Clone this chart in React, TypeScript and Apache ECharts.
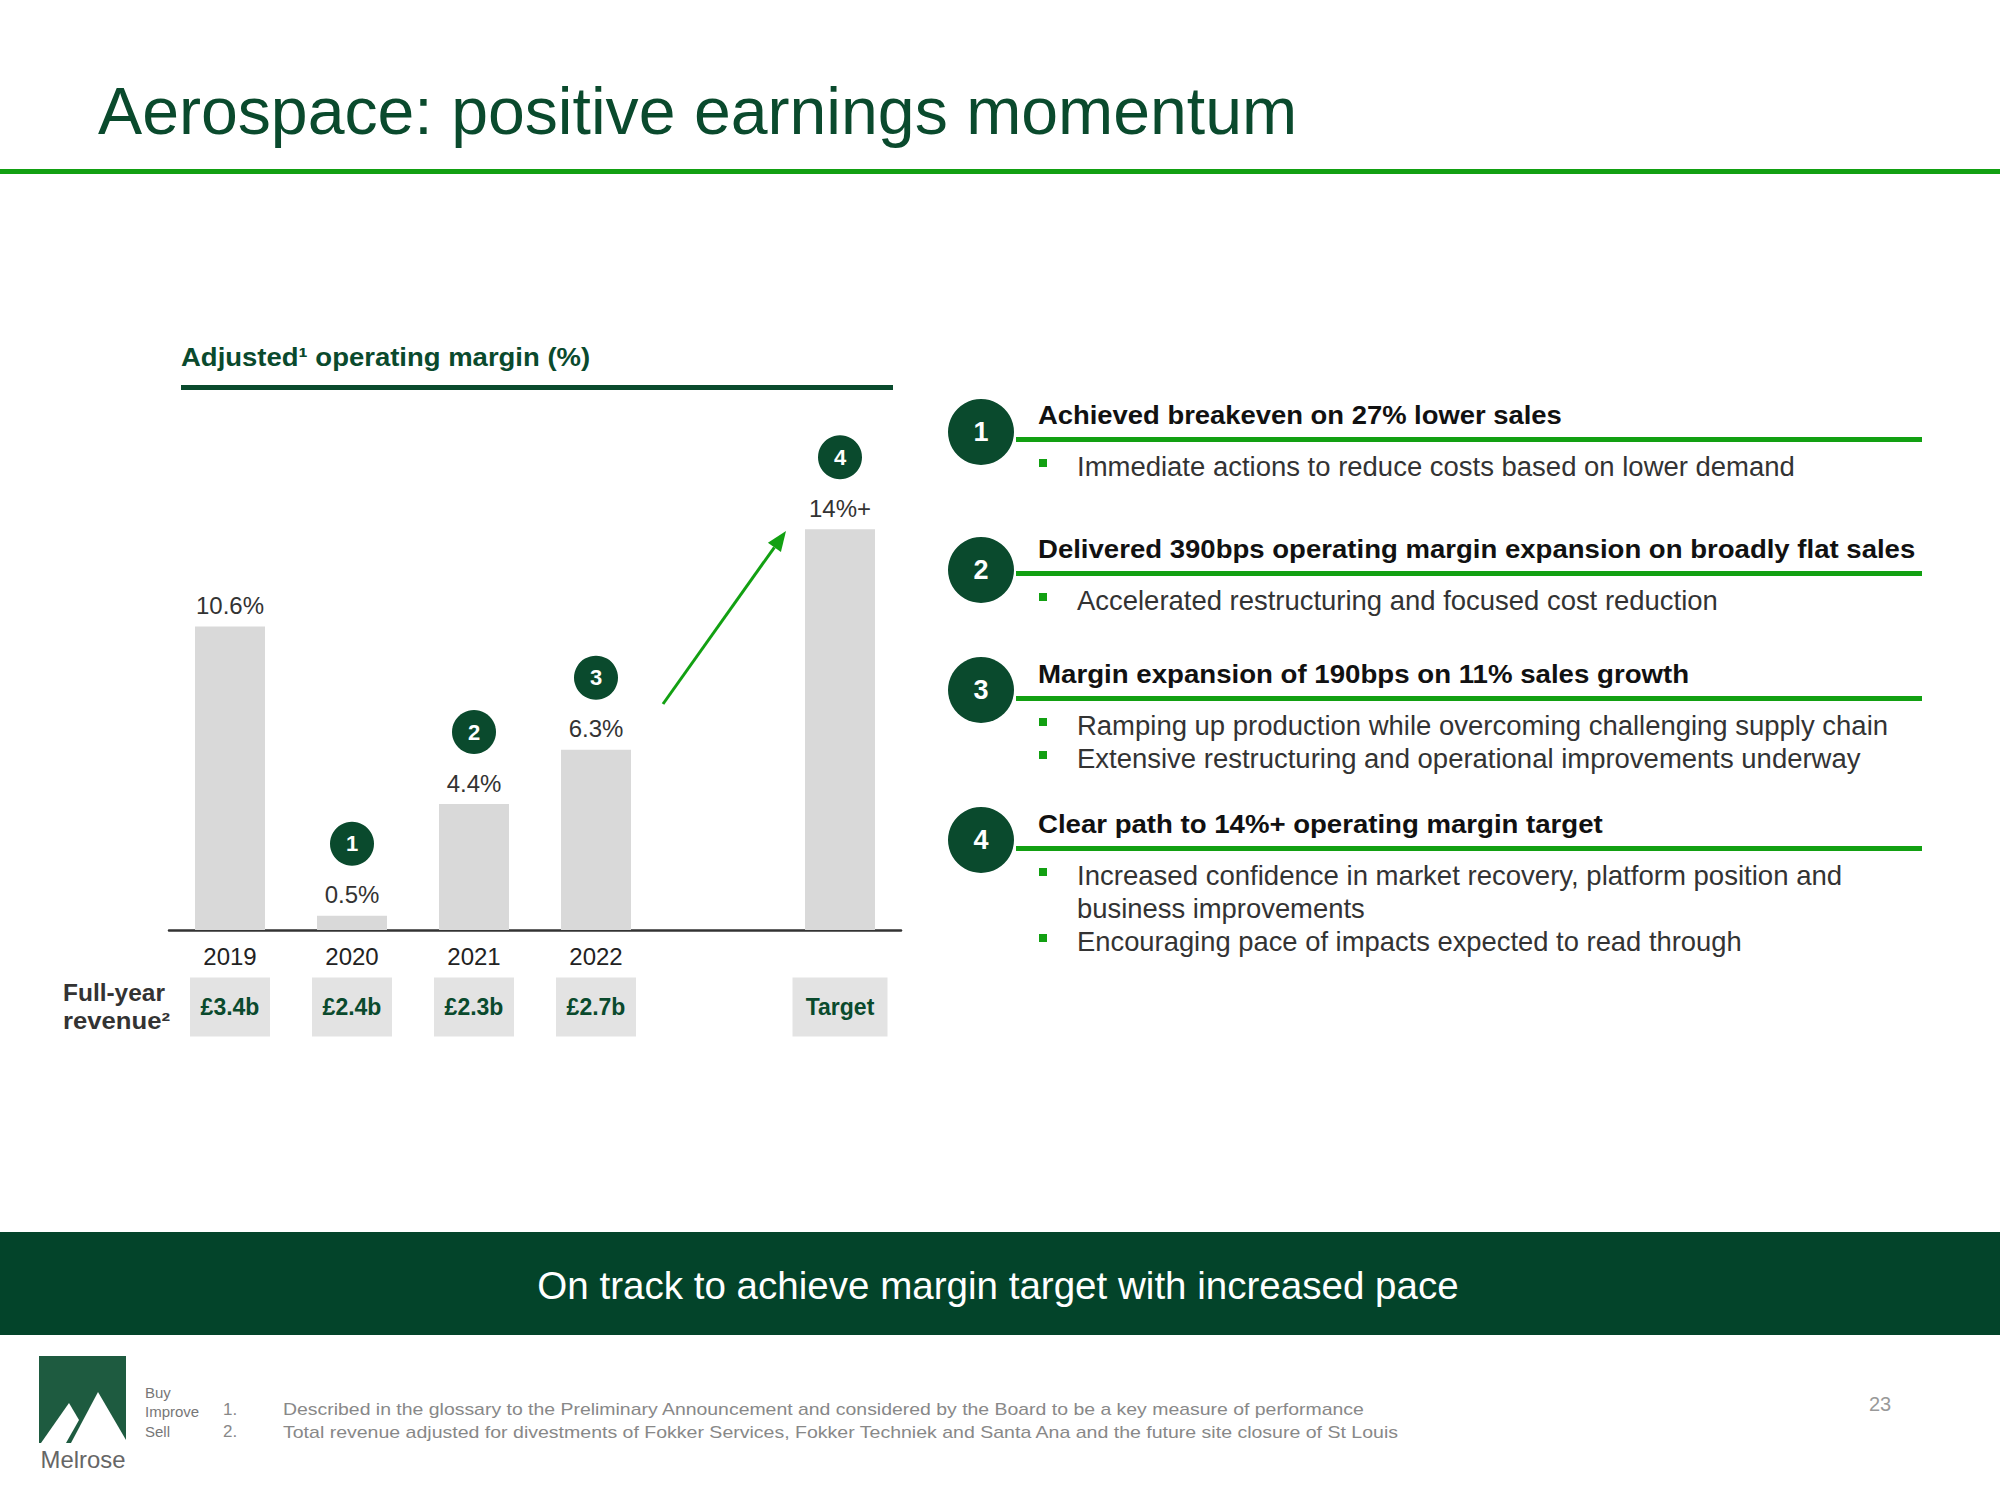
import React, { useEffect, useRef } from 'react';
import * as echarts from 'echarts';

// ---------- data ----------
const categories = ['2019', '2020', '2021', '2022', '', ''];
const marginValues: (number | null)[] = [10.6, 0.5, 4.4, 6.3, null, 14];
const marginLabels = ['10.6%', '0.5%', '4.4%', '6.3%', '', '14%+'];
const revenueLabels = ['£3.4b', '£2.4b', '£2.3b', '£2.7b', '', 'Target'];
const badgeNumbers = ['', '1', '2', '3', '', '4'];

const headings = [
  'Achieved breakeven on 27% lower sales',
  'Delivered 390bps operating margin expansion on broadly flat sales',
  'Margin expansion of 190bps on 11% sales growth',
  'Clear path to 14%+ operating margin target',
];
const bullets: string[][] = [
  ['Immediate actions to reduce costs based on lower demand'],
  ['Accelerated restructuring and focused cost reduction'],
  [
    'Ramping up production while overcoming challenging supply chain',
    'Extensive restructuring and operational improvements underway',
  ],
  [
    'Increased confidence in market recovery, platform position and\nbusiness improvements',
    'Encouraging pace of impacts expected to read through',
  ],
];
const footnotes = [
  'Described in the glossary to the Preliminary Announcement and considered by the Board to be a key measure of performance',
  'Total revenue adjusted for divestments of Fokker Services, Fokker Techniek and Santa Ana and the future site closure of St Louis',
];
const tagline = ['Buy', 'Improve', 'Sell'];

// ---------- styling ----------
const FONT = "'Liberation Sans', Arial, sans-serif";
const DARK_GREEN = '#0a4a2d';
const BRIGHT_GREEN = '#12a012';
const BAND_GREEN = '#03442a';

let measureCtx: CanvasRenderingContext2D | null = null;
function measure(text: string, size: number, weight: string) {
  if (!measureCtx) measureCtx = document.createElement('canvas').getContext('2d');
  if (!measureCtx) return 1;
  measureCtx.font = `${weight} ${size}px ${FONT}`;
  return measureCtx.measureText(text).width || 1;
}

function txt(
  x: number,
  y: number,
  text: string,
  size: number,
  color: string,
  opts: { bold?: boolean; align?: string; width?: number } = {}
) {
  const weight = opts.bold ? 'bold' : 'normal';
  const scaleX = opts.width ? opts.width / measure(text, size, weight) : 1;
  return {
    type: 'text',
    x,
    y,
    scaleX,
    silent: true,
    style: {
      text,
      fill: color,
      fontSize: size,
      fontWeight: weight,
      fontFamily: FONT,
      align: opts.align || 'left',
      verticalAlign: 'middle',
    },
  };
}

function buildGraphics() {
  const g: any[] = [];
  // title
  g.push(txt(98, 111, 'Aerospace: positive earnings momentum', 67, DARK_GREEN, { width: 1199 }));
  g.push({ type: 'rect', silent: true, shape: { x: 0, y: 169, width: 2000, height: 5 }, style: { fill: BRIGHT_GREEN } });

  // chart subtitle
  g.push(txt(181, 357, 'Adjusted¹ operating margin (%)', 26, DARK_GREEN, { bold: true, width: 409 }));
  g.push({ type: 'rect', silent: true, shape: { x: 181, y: 385, width: 712, height: 5 }, style: { fill: DARK_GREEN } });

  // full-year revenue label
  g.push(txt(63, 993, 'Full-year', 23, '#333', { bold: true, width: 102 }));
  g.push(txt(63, 1021, 'revenue²', 23, '#333', { bold: true, width: 107 }));

  // arrow
  const sx = 663, sy = 704, tx = 786, ty = 531;
  const dx = tx - sx, dy = ty - sy;
  const len = Math.sqrt(dx * dx + dy * dy);
  const ux = dx / len, uy = dy / len;
  const headLen = 20, headHalf = 8;
  const bx = tx - ux * headLen, by = ty - uy * headLen;
  g.push({ type: 'line', silent: true, shape: { x1: sx, y1: sy, x2: bx, y2: by }, style: { stroke: BRIGHT_GREEN, lineWidth: 3 } });
  g.push({
    type: 'polygon', silent: true,
    shape: { points: [[tx, ty], [bx - uy * headHalf, by + ux * headHalf], [bx + uy * headHalf, by - ux * headHalf]] },
    style: { fill: BRIGHT_GREEN },
  });

  // right panel
  const headingY = [415, 549, 674, 824];
  const badgeY = [432, 570, 690, 840];
  const headingWidths = [524, 878, 651, 565];
  const bulletWidths = [[718], [641], [811, 784], [766, 288, 665]];
  headings.forEach((h, i) => {
    g.push({ type: 'circle', silent: true, shape: { cx: 981, cy: badgeY[i], r: 33 }, style: { fill: DARK_GREEN } });
    g.push(txt(981, badgeY[i], String(i + 1), 27, '#fff', { bold: true, align: 'center' }));
    g.push(txt(1038, headingY[i], h, 26, '#111', { bold: true, width: headingWidths[i] }));
    g.push({ type: 'rect', silent: true, shape: { x: 1016, y: headingY[i] + 22, width: 906, height: 5 }, style: { fill: BRIGHT_GREEN } });
    let k = 0;
    bullets[i].forEach((b) => {
      b.split('\n').forEach((line, li) => {
        const y = headingY[i] + 52 + 33 * k;
        if (li === 0) {
          g.push({ type: 'rect', silent: true, shape: { x: 1039, y: y - 8, width: 8, height: 8 }, style: { fill: BRIGHT_GREEN } });
        }
        g.push(txt(1077, y, line, 27, '#333', { width: bulletWidths[i][k] }));
        k++;
      });
    });
  });

  // bottom band
  g.push({ type: 'rect', silent: true, shape: { x: 0, y: 1232, width: 2000, height: 103 }, style: { fill: BAND_GREEN } });
  g.push(txt(998, 1285, 'On track to achieve margin target with increased pace', 39, '#fff', { align: 'center', width: 922 }));

  // logo
  g.push({ type: 'rect', silent: true, shape: { x: 39, y: 1356, width: 87, height: 87 }, style: { fill: '#1e5b40' } });
  g.push({ type: 'polygon', silent: true, shape: { points: [[41, 1443], [69, 1403], [79, 1420], [66, 1443]] }, style: { fill: '#fff' } });
  g.push({ type: 'polygon', silent: true, shape: { points: [[71, 1443], [98, 1392], [126, 1440], [126, 1443]] }, style: { fill: '#fff' } });
  g.push(txt(83, 1460, 'Melrose', 23, '#666', { align: 'center', width: 85 }));

  // tagline
  tagline.forEach((t, i) => g.push(txt(145, 1392 + i * 19.5, t, 15, '#777')));

  // footnotes
  const fnWidths = [1082, 1117];
  footnotes.forEach((f, i) => {
    g.push(txt(223, 1409 + i * 22.5, `${i + 1}.`, 17, '#888'));
    g.push(txt(283, 1409 + i * 22.5, f, 17, '#888', { width: fnWidths[i] }));
  });

  // page number
  g.push(txt(1880, 1404, '23', 20, '#999', { align: 'center' }));
  return g;
}

function buildOption(): any {
  return {
    animation: false,
    backgroundColor: '#fff',
    grid: { left: 169, top: 472, width: 732, height: 458 },
    xAxis: [
      {
        type: 'category',
        data: categories,
        axisLine: { show: true, lineStyle: { color: '#333', width: 2.5 } },
        axisTick: { show: false },
        axisLabel: { interval: 0, margin: 14, fontSize: 24, color: '#222', fontFamily: FONT },
      },
      {
        type: 'category',
        data: revenueLabels,
        position: 'bottom',
        axisLine: { show: false },
        axisTick: { show: false },
        axisLabel: {
          interval: 0,
          margin: 65,
          formatter: (v: string) => (v ? (v === 'Target' ? `{t|${v}}` : `{b|${v}}`) : ''),
          rich: {
            b: {
              backgroundColor: '#e3e3e3', padding: [18, 10, 18, 10], width: 60, align: 'center',
              fontSize: 23, fontWeight: 'bold', color: DARK_GREEN, lineHeight: 24, fontFamily: FONT,
            },
            t: {
              backgroundColor: '#e3e3e3', padding: [18, 10, 18, 10], width: 75, align: 'center',
              fontSize: 23, fontWeight: 'bold', color: DARK_GREEN, lineHeight: 24, fontFamily: FONT,
            },
          },
        },
      },
    ],
    yAxis: { type: 'value', min: 0, max: 16, show: false, splitLine: { show: false } },
    series: [
      {
        type: 'bar',
        data: marginValues.map((v) => (v === null ? '-' : v)),
        barWidth: 70,
        itemStyle: { color: '#d9d9d9' },
        label: {
          show: true,
          position: 'top',
          distance: 9,
          fontSize: 24,
          color: '#333',
          fontFamily: FONT,
          formatter: (p: any) => marginLabels[p.dataIndex],
        },
        silent: true,
      },
      {
        type: 'scatter',
        data: badgeNumbers.map((b, i) => (b ? marginValues[i] : '-')),
        symbol: 'circle',
        symbolSize: 44,
        symbolOffset: [0, -72],
        itemStyle: { color: DARK_GREEN, opacity: 1 },
        label: {
          show: true,
          position: 'inside',
          fontSize: 22,
          fontWeight: 'bold',
          color: '#fff',
          fontFamily: FONT,
          formatter: (p: any) => badgeNumbers[p.dataIndex],
        },
        silent: true,
        z: 5,
      },
    ],
    graphic: { elements: buildGraphics() },
  };
}

export default function App() {
  const ref = useRef<HTMLDivElement>(null);
  useEffect(() => {
    if (!ref.current) return;
    const chart = echarts.init(ref.current, null, { renderer: 'svg' });
    chart.setOption(buildOption());
    return () => chart.dispose();
  }, []);
  return (
    <div
      ref={ref}
      style={{ position: 'absolute', left: 0, top: 0, width: 2000, height: 1500, background: '#fff' }}
    />
  );
}
